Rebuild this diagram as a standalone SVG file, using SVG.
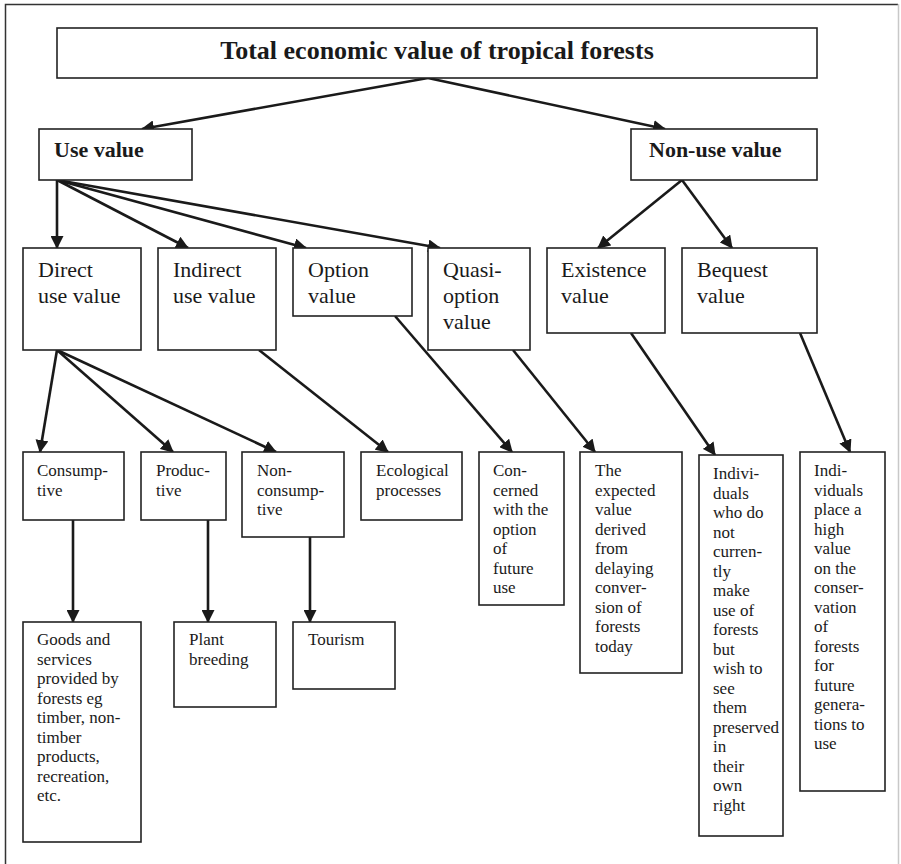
<svg xmlns="http://www.w3.org/2000/svg" width="901" height="864" viewBox="0 0 901 864">
<style>
.box{fill:#fff;stroke:#222;stroke-width:1.6}
.t{font-family:"Liberation Serif","Times New Roman",serif;fill:#1a1a1a}
.b{font-weight:bold}
.l2{font-size:22px}
.s{font-size:17px}
.c{stroke:#1a1a1a;stroke-width:2.6;fill:none;marker-end:url(#ah)}
</style>
<defs>
<marker id="ah" markerWidth="5" markerHeight="5" refX="4.6" refY="2.5" orient="auto" markerUnits="strokeWidth">
<path d="M0,0 L5,2.5 L0,5 Z" fill="#1a1a1a"/>
</marker>
</defs>
<rect x="0" y="0" width="901" height="864" fill="#fff"/>
<path d="M5.5,870 V4.5 H898" fill="none" stroke="#333" stroke-width="1.5"/>
<line x1="898.5" y1="4" x2="898.5" y2="864" stroke="#c8c8c8" stroke-width="1.5"/>

<g id="connectors">
<line class="c" x1="428" y1="78" x2="142" y2="129"/>
<line class="c" x1="428" y1="78" x2="665" y2="129"/>
<line class="c" x1="57" y1="180" x2="57" y2="248"/>
<line class="c" x1="57" y1="180" x2="188" y2="248"/>
<line class="c" x1="57" y1="180" x2="306" y2="248"/>
<line class="c" x1="57" y1="180" x2="440" y2="248"/>
<line class="c" x1="682" y1="180" x2="598" y2="248"/>
<line class="c" x1="682" y1="180" x2="732" y2="248"/>
<line class="c" x1="57" y1="350" x2="40" y2="452"/>
<line class="c" x1="57" y1="350" x2="173" y2="452"/>
<line class="c" x1="57" y1="350" x2="276" y2="452"/>
<line class="c" x1="259" y1="350" x2="388" y2="452"/>
<line class="c" x1="395" y1="316" x2="512" y2="452"/>
<line class="c" x1="513" y1="350" x2="595" y2="452"/>
<line class="c" x1="631" y1="333" x2="715" y2="455"/>
<line class="c" x1="800" y1="333" x2="850" y2="452"/>
<line class="c" x1="73" y1="520" x2="73" y2="622"/>
<line class="c" x1="208" y1="520" x2="208" y2="622"/>
<line class="c" x1="310" y1="537" x2="310" y2="622"/>
</g>

<g id="total">
<rect class="box" x="57" y="28" width="760" height="50"/>
<text class="t b" x="437" y="59" font-size="26" text-anchor="middle">Total economic value of tropical forests</text>
</g>
<g id="use">
<rect class="box" x="39" y="129" width="153" height="51"/>
<text class="t b l2" x="54" y="157">Use value</text>
</g>
<g id="nonuse">
<rect class="box" x="631" y="129" width="186" height="51"/>
<text class="t b l2" x="649" y="157">Non-use value</text>
</g>

<g id="direct">
<rect class="box" x="23" y="248" width="118" height="102"/>
<text class="t l2" x="38" y="277">Direct<tspan x="38" y="303">use value</tspan></text>
</g>
<g id="indirect">
<rect class="box" x="158" y="248" width="118" height="102"/>
<text class="t l2" x="173" y="277">Indirect<tspan x="173" y="303">use value</tspan></text>
</g>
<g id="option">
<rect class="box" x="293" y="248" width="119" height="68"/>
<text class="t l2" x="308" y="277">Option<tspan x="308" y="303">value</tspan></text>
</g>
<g id="quasi">
<rect class="box" x="428" y="248" width="102" height="102"/>
<text class="t l2" x="443" y="277">Quasi-<tspan x="443" y="303">option</tspan><tspan x="443" y="329">value</tspan></text>
</g>
<g id="existence">
<rect class="box" x="547" y="248" width="118" height="85"/>
<text class="t l2" x="561" y="277">Existence<tspan x="561" y="303">value</tspan></text>
</g>
<g id="bequest">
<rect class="box" x="682" y="248" width="135" height="85"/>
<text class="t l2" x="697" y="277">Bequest<tspan x="697" y="303">value</tspan></text>
</g>

<g id="consumptive">
<rect class="box" x="23" y="452" width="101" height="68"/>
<text class="t s" x="37" y="476">Consump-<tspan x="37" y="495.5">tive</tspan></text>
</g>
<g id="productive">
<rect class="box" x="141" y="452" width="85" height="68"/>
<text class="t s" x="156" y="476">Produc-<tspan x="156" y="495.5">tive</tspan></text>
</g>
<g id="nonconsumptive">
<rect class="box" x="242" y="452" width="102" height="85"/>
<text class="t s" x="257" y="476">Non-<tspan x="257" y="495.5">consump-</tspan><tspan x="257" y="515">tive</tspan></text>
</g>
<g id="ecological">
<rect class="box" x="361" y="452" width="101" height="68"/>
<text class="t s" x="376" y="476">Ecological<tspan x="376" y="495.5">processes</tspan></text>
</g>
<g id="concerned">
<rect class="box" x="479" y="452" width="85" height="153"/>
<text class="t s" x="493" y="476">Con-<tspan x="493" y="495.5">cerned</tspan><tspan x="493" y="515">with the</tspan><tspan x="493" y="534.5">option</tspan><tspan x="493" y="554">of</tspan><tspan x="493" y="573.5">future</tspan><tspan x="493" y="593">use</tspan></text>
</g>
<g id="expected">
<rect class="box" x="580" y="452" width="102" height="221"/>
<text class="t s" x="595" y="476">The<tspan x="595" y="495.5">expected</tspan><tspan x="595" y="515">value</tspan><tspan x="595" y="534.5">derived</tspan><tspan x="595" y="554">from</tspan><tspan x="595" y="573.5">delaying</tspan><tspan x="595" y="593">conver-</tspan><tspan x="595" y="612.5">sion of</tspan><tspan x="595" y="632">forests</tspan><tspan x="595" y="651.5">today</tspan></text>
</g>
<g id="individuals1">
<rect class="box" x="699" y="455" width="84" height="381"/>
<text class="t s" x="713" y="479">Indivi-<tspan x="713" y="498.5">duals</tspan><tspan x="713" y="518">who do</tspan><tspan x="713" y="537.5">not</tspan><tspan x="713" y="557">curren-</tspan><tspan x="713" y="576.5">tly</tspan><tspan x="713" y="596">make</tspan><tspan x="713" y="615.5">use of</tspan><tspan x="713" y="635">forests</tspan><tspan x="713" y="654.5">but</tspan><tspan x="713" y="674">wish to</tspan><tspan x="713" y="693.5">see</tspan><tspan x="713" y="713">them</tspan><tspan x="713" y="732.5">preserved</tspan><tspan x="713" y="752">in</tspan><tspan x="713" y="771.5">their</tspan><tspan x="713" y="791">own</tspan><tspan x="713" y="810.5">right</tspan></text>
</g>
<g id="individuals2">
<rect class="box" x="800" y="452" width="85" height="339"/>
<text class="t s" x="814" y="476">Indi-<tspan x="814" y="495.5">viduals</tspan><tspan x="814" y="515">place a</tspan><tspan x="814" y="534.5">high</tspan><tspan x="814" y="554">value</tspan><tspan x="814" y="573.5">on the</tspan><tspan x="814" y="593">conser-</tspan><tspan x="814" y="612.5">vation</tspan><tspan x="814" y="632">of</tspan><tspan x="814" y="651.5">forests</tspan><tspan x="814" y="671">for</tspan><tspan x="814" y="690.5">future</tspan><tspan x="814" y="710">genera-</tspan><tspan x="814" y="729.5">tions to</tspan><tspan x="814" y="749">use</tspan></text>
</g>

<g id="goods">
<rect class="box" x="23" y="622" width="118" height="220"/>
<text class="t s" x="37" y="645">Goods and<tspan x="37" y="664.5">services</tspan><tspan x="37" y="684">provided by</tspan><tspan x="37" y="703.5">forests eg</tspan><tspan x="37" y="723">timber, non-</tspan><tspan x="37" y="742.5">timber</tspan><tspan x="37" y="762">products,</tspan><tspan x="37" y="781.5">recreation,</tspan><tspan x="37" y="801">etc.</tspan></text>
</g>
<g id="plant">
<rect class="box" x="174" y="622" width="102" height="85"/>
<text class="t s" x="189" y="645">Plant<tspan x="189" y="664.5">breeding</tspan></text>
</g>
<g id="tourism">
<rect class="box" x="293" y="622" width="102" height="67"/>
<text class="t s" x="308" y="645">Tourism</text>
</g>
</svg>
